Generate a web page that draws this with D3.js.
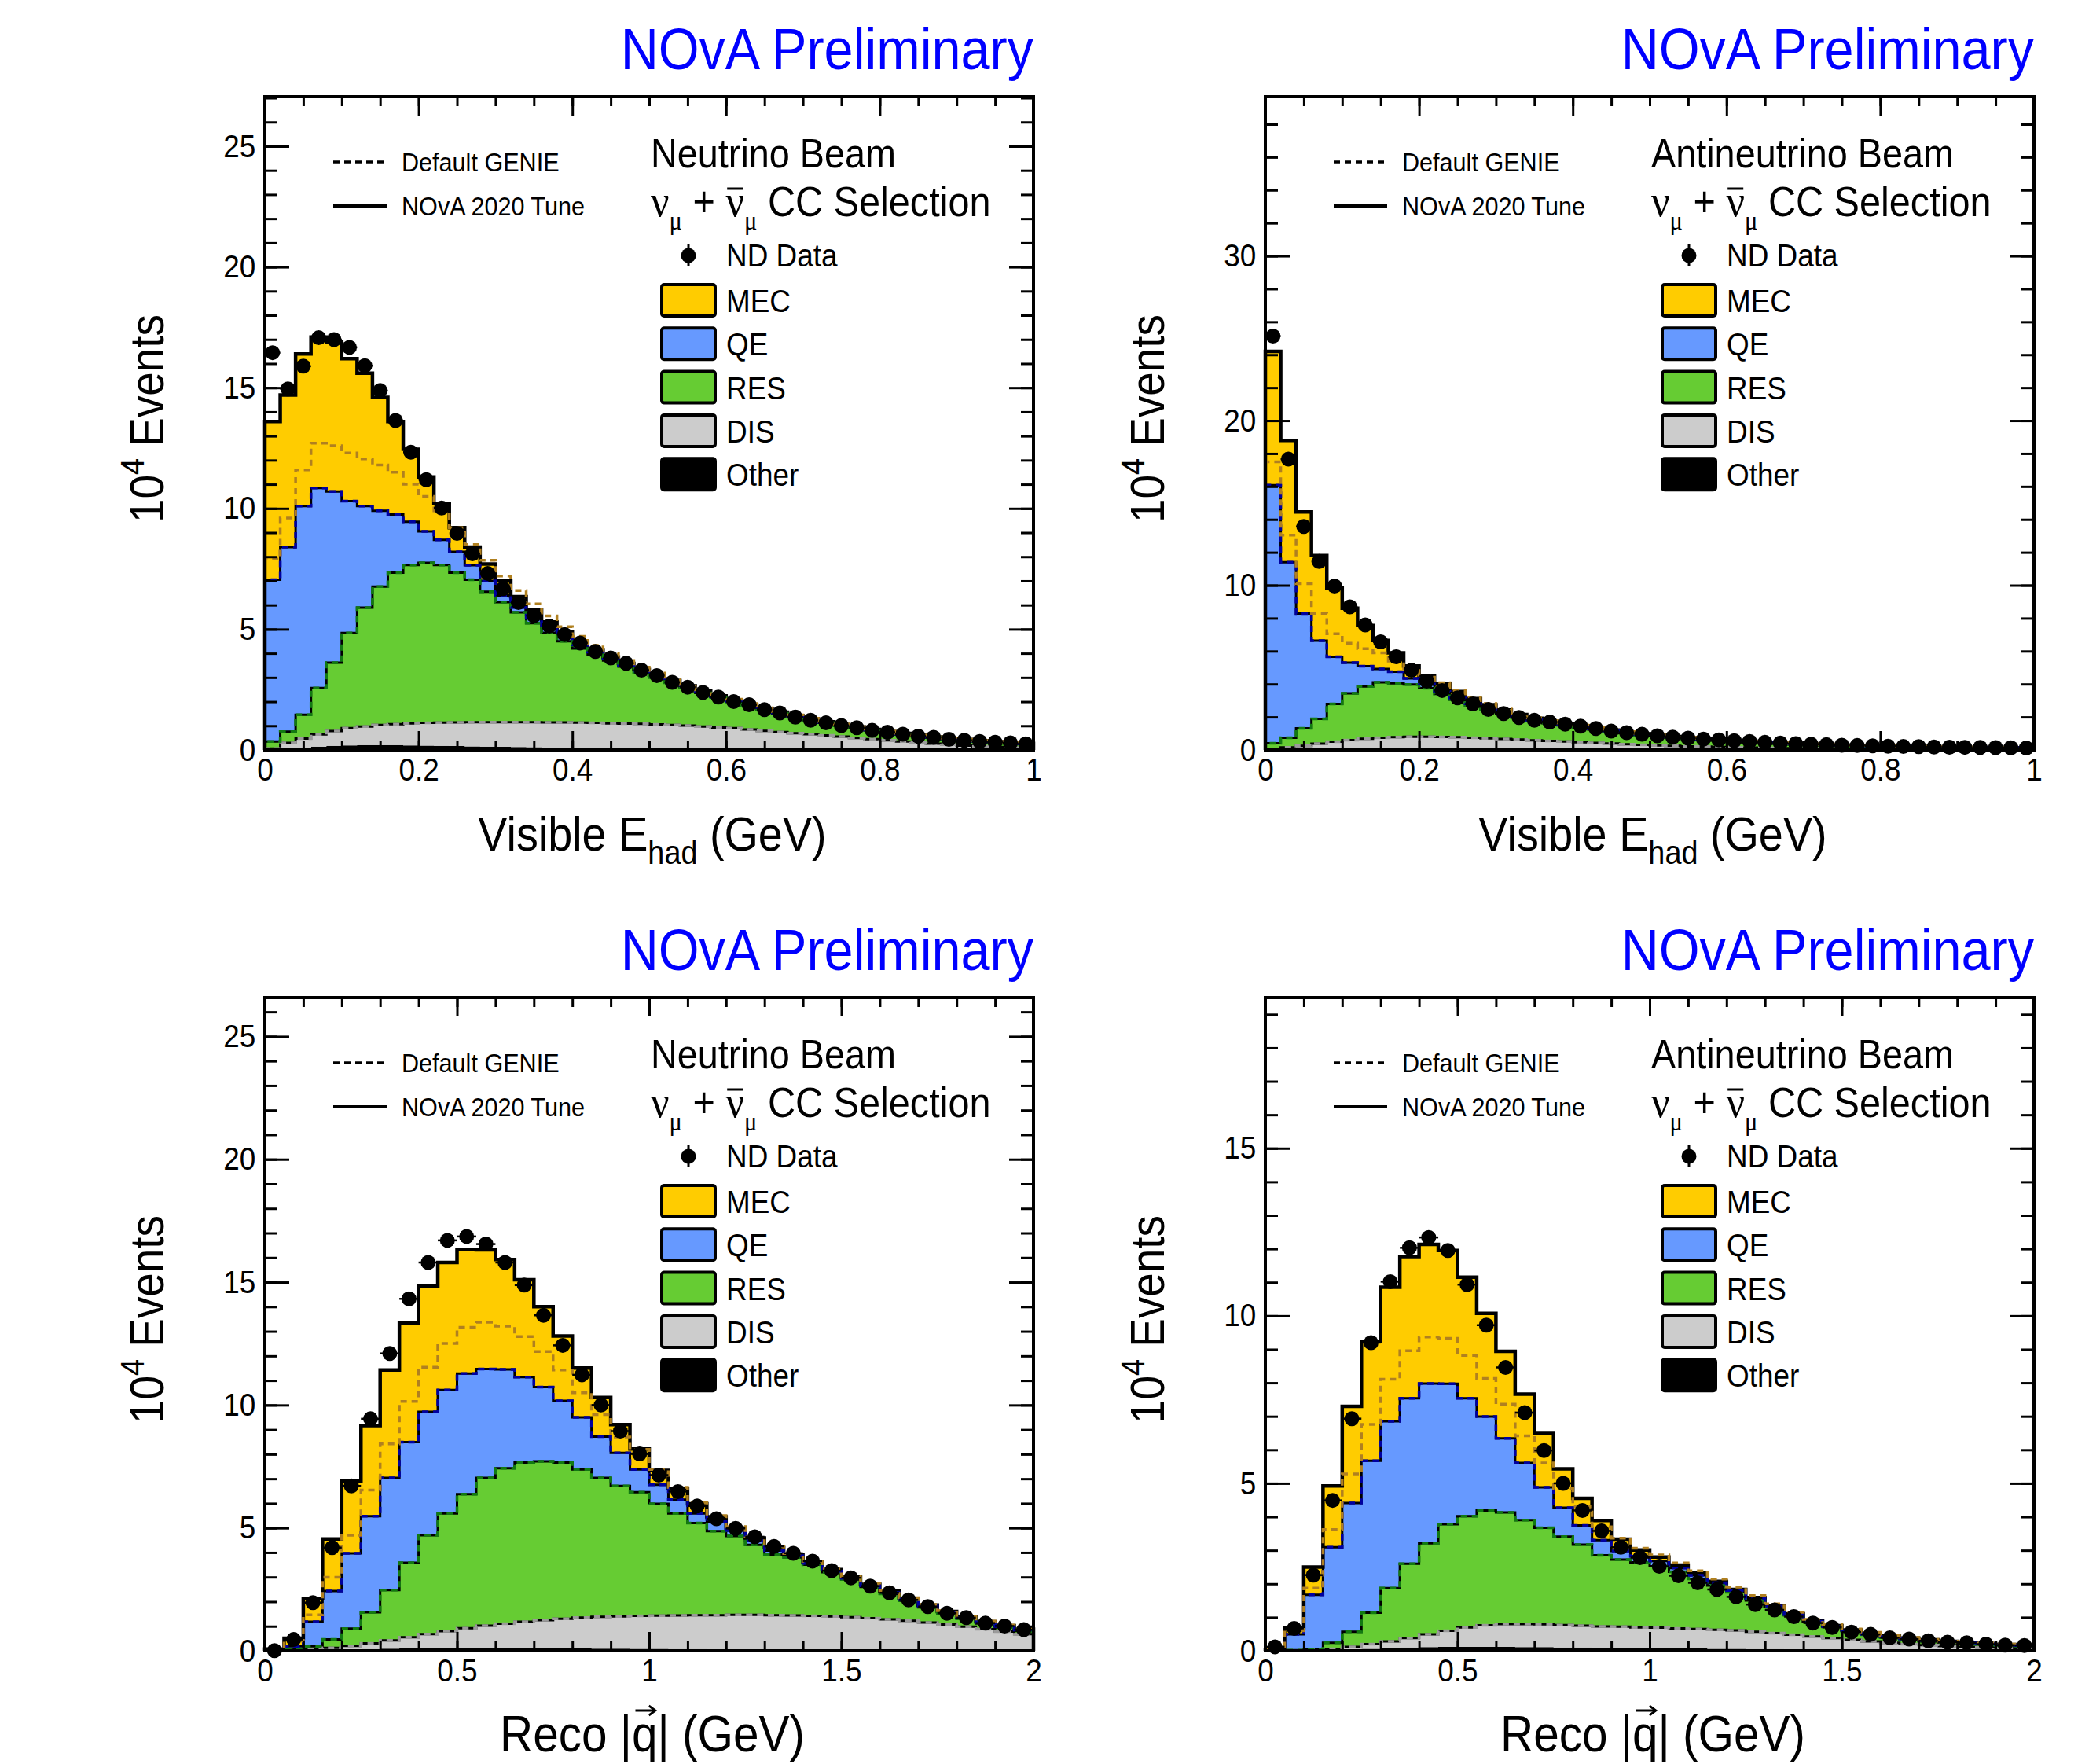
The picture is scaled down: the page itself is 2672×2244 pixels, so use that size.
<!DOCTYPE html>
<html>
<head>
<meta charset="utf-8">
<script src="https://cdn.jsdelivr.net/npm/d3@7"></script>
<style>body{margin:0;background:#fff}</style>
</head>
<body>
<svg id="fig"></svg>
<script>
// ---- binning and tick labels ----
const ehadBinWidth = 0.02;
const qBinWidth = 0.05;
const ehadXTicks = [0, 0.2, 0.4, 0.6, 0.8, 1];
const qXTicks = [0, 0.5, 1, 1.5, 2];
const nuEhadYTicks = [0, 5, 10, 15, 20, 25];
const antiEhadYTicks = [0, 10, 20, 30];
const nuQYTicks = [0, 5, 10, 15, 20, 25];
const antiQYTicks = [0, 5, 10, 15];
const legendNames = ["MEC", "QE", "RES", "DIS", "Other"];

// ---- neutrino beam, visible Ehad (stacked tops, 10^4 events) ----
const nuEhadData = [16.45, 14.95, 15.89, 17.07, 16.99, 16.67, 15.91, 14.88, 13.64, 12.33, 11.19, 10.02, 8.97, 8.12, 7.31, 6.68, 6.10, 5.56, 5.13, 4.78, 4.43, 4.08, 3.81, 3.59, 3.30, 3.08, 2.80, 2.60, 2.38, 2.19, 2.00, 1.87, 1.67, 1.53, 1.36, 1.23, 1.12, 1.01, 0.92, 0.81, 0.73, 0.65, 0.57, 0.52, 0.44, 0.40, 0.35, 0.32, 0.29, 0.25];
const nuEhadMEC = [13.6, 14.7, 16.4, 17.1, 16.9, 16.2, 15.6, 14.6, 13.6, 12.45, 11.3, 10.2, 9.2, 8.4, 7.7, 7.0, 6.35, 5.8, 5.3, 4.9, 4.5, 4.15, 3.85, 3.58, 3.33, 3.1, 2.87, 2.65, 2.44, 2.24, 2.05, 1.88, 1.72, 1.56, 1.42, 1.29, 1.16, 1.05, 0.95, 0.85, 0.76, 0.68, 0.6, 0.54, 0.48, 0.43, 0.38, 0.34, 0.3, 0.27];
const nuEhadQE = [7.05, 8.4, 10.1, 10.85, 10.7, 10.3, 10.1, 9.9, 9.75, 9.45, 9.05, 8.7, 8.2, 7.65, 7.0, 6.4, 5.9, 5.45, 5.05, 4.7, 4.35, 4.05, 3.77, 3.5, 3.26, 3.04, 2.82, 2.6, 2.4, 2.2, 2.02, 1.85, 1.69, 1.54, 1.4, 1.27, 1.14, 1.03, 0.93, 0.83, 0.74, 0.66, 0.59, 0.53, 0.47, 0.42, 0.37, 0.33, 0.29, 0.26];
const nuEhadRES = [0.35, 0.76, 1.46, 2.56, 3.61, 4.84, 5.89, 6.76, 7.34, 7.66, 7.75, 7.66, 7.34, 7.05, 6.55, 6.12, 5.7, 5.25, 4.85, 4.5, 4.2, 3.95, 3.7, 3.45, 3.21, 3.0, 2.78, 2.56, 2.36, 2.17, 1.99, 1.82, 1.66, 1.51, 1.37, 1.24, 1.12, 1.01, 0.91, 0.81, 0.72, 0.64, 0.57, 0.51, 0.45, 0.40, 0.35, 0.31, 0.27, 0.24];
const nuEhadDIS = [0.06, 0.29, 0.47, 0.64, 0.78, 0.9, 0.97, 1.03, 1.07, 1.1, 1.12, 1.13, 1.14, 1.15, 1.15, 1.15, 1.15, 1.15, 1.14, 1.14, 1.13, 1.12, 1.1, 1.09, 1.08, 1.06, 1.03, 1.01, 0.97, 0.93, 0.9, 0.85, 0.79, 0.74, 0.69, 0.65, 0.6, 0.55, 0.5, 0.45, 0.4, 0.35, 0.3, 0.26, 0.22, 0.18, 0.15, 0.12, 0.1, 0.08];
const nuEhadOther = [0.02, 0.05, 0.1, 0.14, 0.17, 0.19, 0.2, 0.2, 0.2, 0.19, 0.18, 0.17, 0.16, 0.15, 0.14, 0.13, 0.12, 0.11, 0.1, 0.1, 0.09, 0.09, 0.08, 0.08, 0.07, 0.07, 0.06, 0.06, 0.06, 0.05, 0.05, 0.05, 0.04, 0.04, 0.04, 0.04, 0.03, 0.03, 0.03, 0.03, 0.03, 0.02, 0.02, 0.02, 0.02, 0.02, 0.02, 0.02, 0.02, 0.02];
const nuEhadGenie = [7.9, 9.6, 11.6, 12.7, 12.6, 12.3, 12.05, 11.8, 11.5, 11.0, 10.5, 9.9, 9.2, 8.5, 7.85, 7.2, 6.6, 6.05, 5.55, 5.1, 4.7, 4.33, 4.0, 3.7, 3.43, 3.18, 2.94, 2.71, 2.49, 2.29, 2.1, 1.92, 1.75, 1.59, 1.45, 1.31, 1.18, 1.07, 0.96, 0.86, 0.77, 0.69, 0.61, 0.55, 0.49, 0.44, 0.39, 0.35, 0.31, 0.28];

// ---- antineutrino beam, visible Ehad ----
const antiEhadData = [25.13, 17.66, 13.57, 11.44, 9.95, 8.69, 7.59, 6.56, 5.66, 4.84, 4.18, 3.61, 3.16, 2.79, 2.46, 2.21, 1.97, 1.8, 1.69, 1.56, 1.44, 1.3, 1.15, 1.05, 0.95, 0.86, 0.78, 0.72, 0.66, 0.61, 0.56, 0.51, 0.46, 0.42, 0.38, 0.35, 0.32, 0.29, 0.27, 0.25, 0.23, 0.21, 0.2, 0.18, 0.17, 0.16, 0.15, 0.14, 0.13, 0.12];
const antiEhadMEC = [24.2, 18.8, 14.45, 11.8, 9.85, 8.6, 7.55, 6.65, 5.9, 5.1, 4.5, 4.0, 3.55, 3.12, 2.75, 2.42, 2.15, 1.92, 1.74, 1.6, 1.47, 1.33, 1.2, 1.08, 0.98, 0.89, 0.81, 0.74, 0.68, 0.62, 0.57, 0.52, 0.47, 0.43, 0.39, 0.36, 0.33, 0.3, 0.28, 0.26, 0.24, 0.22, 0.2, 0.19, 0.17, 0.16, 0.15, 0.14, 0.13, 0.12];
const antiEhadQE = [16.07, 11.4, 8.28, 6.64, 5.66, 5.3, 5.08, 4.92, 4.75, 4.35, 4.0, 3.55, 3.15, 2.8, 2.5, 2.25, 2.02, 1.82, 1.66, 1.53, 1.41, 1.28, 1.16, 1.05, 0.95, 0.87, 0.79, 0.72, 0.66, 0.61, 0.56, 0.51, 0.46, 0.42, 0.38, 0.35, 0.32, 0.29, 0.27, 0.25, 0.23, 0.21, 0.2, 0.18, 0.17, 0.16, 0.15, 0.14, 0.13, 0.12];
const antiEhadRES = [0.41, 0.74, 1.31, 1.89, 2.79, 3.44, 3.85, 4.1, 4.05, 3.98, 3.75, 3.4, 3.05, 2.7, 2.42, 2.18, 1.96, 1.77, 1.62, 1.49, 1.37, 1.24, 1.12, 1.01, 0.91, 0.83, 0.75, 0.68, 0.62, 0.57, 0.52, 0.47, 0.42, 0.38, 0.34, 0.31, 0.28, 0.25, 0.23, 0.21, 0.19, 0.17, 0.16, 0.14, 0.13, 0.12, 0.11, 0.1, 0.09, 0.08];
const antiEhadDIS = [0.05, 0.15, 0.25, 0.38, 0.5, 0.6, 0.68, 0.74, 0.78, 0.8, 0.8, 0.79, 0.77, 0.74, 0.71, 0.67, 0.63, 0.59, 0.55, 0.51, 0.47, 0.43, 0.39, 0.35, 0.31, 0.28, 0.25, 0.22, 0.2, 0.18, 0.16, 0.14, 0.12, 0.11, 0.1, 0.09, 0.08, 0.07, 0.06, 0.06, 0.05, 0.05, 0.04, 0.04, 0.04, 0.03, 0.03, 0.03, 0.03, 0.02];
const antiEhadOther = [0.02, 0.05, 0.08, 0.1, 0.12, 0.13, 0.13, 0.13, 0.12, 0.12, 0.11, 0.1, 0.09, 0.08, 0.07, 0.06, 0.05, 0.05, 0.04, 0.04, 0.03, 0.03, 0.03, 0.03, 0.03, 0.03, 0.03, 0.03, 0.03, 0.03, 0.02, 0.02, 0.02, 0.02, 0.02, 0.02, 0.02, 0.02, 0.02, 0.02, 0.02, 0.02, 0.02, 0.02, 0.02, 0.02, 0.02, 0.02, 0.02, 0.02];
const antiEhadGenie = [17.5, 13.05, 10.1, 8.3, 7.05, 6.48, 6.15, 5.9, 5.4, 4.95, 4.55, 4.08, 3.62, 3.2, 2.82, 2.48, 2.2, 1.96, 1.78, 1.63, 1.5, 1.36, 1.23, 1.11, 1.0, 0.91, 0.83, 0.76, 0.7, 0.64, 0.58, 0.53, 0.48, 0.44, 0.4, 0.37, 0.34, 0.31, 0.29, 0.27, 0.25, 0.23, 0.21, 0.19, 0.18, 0.17, 0.16, 0.15, 0.14, 0.13];

// ---- neutrino beam, reco |q| ----
const nuQData = [0.01, 0.46, 1.96, 4.2, 6.71, 9.44, 12.1, 14.32, 15.8, 16.7, 16.86, 16.55, 15.8, 14.88, 13.65, 12.43, 11.23, 10.0, 8.94, 8.01, 7.15, 6.48, 5.89, 5.37, 4.98, 4.64, 4.25, 3.97, 3.65, 3.26, 2.97, 2.63, 2.36, 2.07, 1.8, 1.53, 1.35, 1.13, 1.01, 0.86];
const nuQMEC = [0.07, 0.51, 2.13, 4.55, 6.9, 9.16, 11.43, 13.33, 14.85, 15.8, 16.34, 16.31, 15.92, 15.1, 14.0, 12.81, 11.51, 10.31, 9.2, 8.21, 7.34, 6.6, 5.98, 5.45, 5.0, 4.59, 4.2, 3.93, 3.62, 3.3, 3.0, 2.7, 2.42, 2.13, 1.86, 1.6, 1.38, 1.18, 1.02, 0.88];
const nuQQE = [0.01, 0.18, 1.18, 2.43, 3.97, 5.48, 7.04, 8.49, 9.72, 10.61, 11.28, 11.47, 11.45, 11.14, 10.73, 10.17, 9.5, 8.72, 8.05, 7.38, 6.76, 6.15, 5.59, 5.26, 4.89, 4.48, 4.08, 3.87, 3.56, 3.24, 2.95, 2.65, 2.37, 2.09, 1.82, 1.57, 1.35, 1.15, 0.99, 0.85];
const nuQRES = [0.01, 0.07, 0.18, 0.46, 0.9, 1.57, 2.47, 3.58, 4.7, 5.59, 6.37, 7.04, 7.43, 7.66, 7.71, 7.66, 7.38, 7.04, 6.71, 6.45, 5.98, 5.59, 5.2, 4.87, 4.67, 4.31, 3.92, 3.8, 3.5, 3.2, 2.9, 2.6, 2.32, 2.04, 1.77, 1.53, 1.31, 1.11, 0.95, 0.81];
const nuQDIS = [0.0, 0.02, 0.05, 0.12, 0.2, 0.3, 0.42, 0.55, 0.68, 0.8, 0.92, 1.02, 1.1, 1.18, 1.25, 1.3, 1.35, 1.38, 1.4, 1.42, 1.43, 1.44, 1.45, 1.45, 1.46, 1.46, 1.45, 1.44, 1.42, 1.4, 1.37, 1.33, 1.28, 1.22, 1.15, 1.07, 0.98, 0.88, 0.78, 0.68];
const nuQOther = [0, 0.01, 0.02, 0.03, 0.05, 0.07, 0.09, 0.1, 0.11, 0.12, 0.12, 0.12, 0.12, 0.11, 0.11, 0.1, 0.1, 0.09, 0.09, 0.08, 0.08, 0.07, 0.07, 0.06, 0.06, 0.05, 0.05, 0.05, 0.04, 0.04, 0.04, 0.03, 0.03, 0.03, 0.03, 0.02, 0.02, 0.02, 0.02, 0.02];
const nuQGenie = [0.01, 0.4, 1.46, 2.99, 4.7, 6.54, 8.42, 10.15, 11.54, 12.51, 13.16, 13.37, 13.21, 12.79, 12.18, 11.43, 10.5, 9.61, 8.7, 8.2, 7.38, 6.65, 6.02, 5.5, 5.05, 4.63, 4.24, 3.96, 3.65, 3.33, 3.03, 2.73, 2.45, 2.16, 1.89, 1.63, 1.41, 1.21, 1.05, 0.91];

// ---- antineutrino beam, reco |q| ----
const antiQData = [0.12, 0.67, 2.26, 4.49, 6.93, 9.2, 11.02, 12.03, 12.34, 11.95, 10.93, 9.72, 8.46, 7.11, 5.98, 5.0, 4.19, 3.58, 3.09, 2.78, 2.52, 2.24, 2.03, 1.83, 1.61, 1.38, 1.22, 1.02, 0.83, 0.7, 0.56, 0.49, 0.39, 0.35, 0.3, 0.26, 0.24, 0.2, 0.17, 0.16];
const antiQMEC = [0.04, 0.69, 2.5, 4.92, 7.3, 9.23, 10.85, 11.77, 12.13, 11.95, 11.15, 10.07, 8.94, 7.66, 6.49, 5.43, 4.55, 3.89, 3.33, 3.01, 2.8, 2.56, 2.32, 2.07, 1.83, 1.59, 1.34, 1.1, 0.9, 0.75, 0.62, 0.52, 0.44, 0.38, 0.33, 0.28, 0.25, 0.22, 0.19, 0.17];
const antiQQE = [0.02, 0.49, 1.67, 3.09, 4.41, 5.67, 6.85, 7.54, 7.98, 7.97, 7.54, 6.99, 6.34, 5.61, 4.88, 4.27, 3.74, 3.3, 2.98, 2.82, 2.68, 2.47, 2.25, 2.03, 1.8, 1.56, 1.33, 1.08, 0.88, 0.73, 0.6, 0.5, 0.42, 0.36, 0.31, 0.27, 0.24, 0.21, 0.18, 0.16];
const antiQRES = [0, 0.02, 0.04, 0.24, 0.57, 1.14, 1.87, 2.6, 3.21, 3.78, 4.02, 4.19, 4.13, 3.9, 3.67, 3.41, 3.17, 2.85, 2.72, 2.64, 2.52, 2.36, 2.15, 1.95, 1.75, 1.5, 1.3, 1.06, 0.86, 0.71, 0.58, 0.48, 0.4, 0.34, 0.29, 0.25, 0.22, 0.19, 0.16, 0.14];
const antiQDIS = [0, 0.01, 0.03, 0.06, 0.12, 0.2, 0.28, 0.38, 0.49, 0.6, 0.7, 0.76, 0.8, 0.8, 0.79, 0.77, 0.75, 0.73, 0.72, 0.7, 0.69, 0.67, 0.65, 0.63, 0.61, 0.57, 0.53, 0.48, 0.43, 0.38, 0.33, 0.28, 0.24, 0.2, 0.17, 0.14, 0.12, 0.1, 0.08, 0.07];
const antiQOther = [0, 0, 0.01, 0.02, 0.04, 0.06, 0.08, 0.1, 0.11, 0.12, 0.12, 0.12, 0.12, 0.11, 0.11, 0.1, 0.1, 0.09, 0.09, 0.08, 0.08, 0.07, 0.07, 0.06, 0.06, 0.05, 0.05, 0.04, 0.04, 0.03, 0.03, 0.03, 0.02, 0.02, 0.02, 0.02, 0.02, 0.02, 0.02, 0.02];
const antiQGenie = [0.04, 0.6, 1.87, 3.62, 5.28, 6.76, 8.11, 8.96, 9.37, 9.33, 8.82, 8.13, 7.36, 6.42, 5.61, 4.84, 4.3, 3.7, 3.36, 3.06, 2.86, 2.62, 2.39, 2.14, 1.9, 1.65, 1.4, 1.15, 0.94, 0.79, 0.65, 0.55, 0.46, 0.4, 0.34, 0.29, 0.26, 0.23, 0.2, 0.18];

// ---- drawing ----
const W = 2672, H = 2244, PW = 978, PH = 831;
const SX = 0.9; // ROOT's helvetica is a bit narrower
const FONT = "'Liberation Sans', Arial, Helvetica, sans-serif";
const SERIF = "'Liberation Serif', 'Times New Roman', serif";
const fillColors = ["#000000", "#cccccc", "#66cc33", "#6699ff", "#ffcc00"]; // Other, DIS, RES, QE, MEC
const legendFill = {MEC: "#ffcc00", QE: "#6699ff", RES: "#66cc33", DIS: "#cccccc", Other: "#000000"};

const svg = d3.select("#fig").attr("width", W).attr("height", H);
svg.append("rect").attr("width", W).attr("height", H).attr("fill", "#fff");

function txt(parent, x, y, size, str, anchor, family) {
  return parent.append("text")
    .attr("transform", `translate(${x},${y}) scale(${SX},1)`)
    .attr("font-size", size)
    .attr("font-family", family || FONT)
    .attr("text-anchor", anchor || "start")
    .text(str);
}

const panels = [
  {pos: [337, 123], beam: "Neutrino Beam", kind: "ehad", lo: 0, hi: 1, bw: ehadBinWidth, ymax: 27.05,
   yTicks: nuEhadYTicks, yMinor: 1, xTicks: ehadXTicks, xMinor: 0.05,
   data: nuEhadData, stack: [nuEhadOther, nuEhadDIS, nuEhadRES, nuEhadQE, nuEhadMEC], genie: nuEhadGenie},
  {pos: [1610, 123], beam: "Antineutrino Beam", kind: "ehad", lo: 0, hi: 1, bw: ehadBinWidth, ymax: 39.67,
   yTicks: antiEhadYTicks, yMinor: 2, xTicks: ehadXTicks, xMinor: 0.05,
   data: antiEhadData, stack: [antiEhadOther, antiEhadDIS, antiEhadRES, antiEhadQE, antiEhadMEC], genie: antiEhadGenie},
  {pos: [337, 1269], beam: "Neutrino Beam", kind: "q", lo: 0, hi: 2, bw: qBinWidth, ymax: 26.58,
   yTicks: nuQYTicks, yMinor: 1, xTicks: qXTicks, xMinor: 0.1,
   data: nuQData, stack: [nuQOther, nuQDIS, nuQRES, nuQQE, nuQMEC], genie: nuQGenie},
  {pos: [1610, 1269], beam: "Antineutrino Beam", kind: "q", lo: 0, hi: 2, bw: qBinWidth, ymax: 19.5,
   yTicks: antiQYTicks, yMinor: 1, xTicks: qXTicks, xMinor: 0.1,
   data: antiQData, stack: [antiQOther, antiQDIS, antiQRES, antiQQE, antiQMEC], genie: antiQGenie}
];

function drawPanel(p) {
  const g = svg.append("g").attr("transform", `translate(${p.pos[0]},${p.pos[1]})`);
  const x = d3.scaleLinear().domain([p.lo, p.hi]).range([0, PW]);
  const y = d3.scaleLinear().domain([0, p.ymax]).range([PH, 0]);
  const n = p.data.length;
  const edges = d3.range(n + 1).map(i => p.lo + i * p.bw);

  // stacked fills
  const area = d3.area().x(d => x(d.e)).y0(d => y(d.a)).y1(d => y(d.b)).curve(d3.curveStepAfter);
  p.stack.forEach((upper, k) => {
    const lower = k === 0 ? null : p.stack[k - 1];
    const rows = edges.map((e, i) => {
      const j = Math.min(i, n - 1);
      return {e: e, a: lower ? lower[j] : 0, b: upper[j]};
    });
    g.append("path").attr("d", area(rows)).attr("fill", fillColors[k]);
  });

  // step outlines
  const line = d3.line().x(d => x(d[0])).y(d => y(d[1])).curve(d3.curveStepAfter);
  const steps = vals => [[edges[0], 0]].concat(vals.map((v, i) => [edges[i], v]), [[edges[n], vals[n - 1]], [edges[n], 0]]);
  [p.stack[1], p.stack[2], p.stack[3]].forEach(v => {
    g.append("path").attr("d", line(steps(v))).attr("fill", "none").attr("stroke", "#000").attr("stroke-width", 3);
  });
  g.append("path").attr("d", line(steps(p.stack[4]))).attr("fill", "none").attr("stroke", "#000").attr("stroke-width", 4.5);

  // default GENIE (dashed)
  const dashed = [[p.stack[1], "#9a9a9a"], [p.stack[2], "#127a12"], [p.stack[3], "#0000a0"], [p.genie, "#b08020"]];
  dashed.forEach(([v, c]) => {
    g.append("path").attr("d", line(steps(v))).attr("fill", "none").attr("stroke", c)
      .attr("stroke-width", 3.5).attr("stroke-dasharray", "8,6");
  });

  // data
  const pts = g.append("g");
  pts.selectAll("line").data(p.data).join("line")
    .attr("x1", (d, i) => x(edges[i])).attr("x2", (d, i) => x(edges[i + 1]))
    .attr("y1", d => y(d)).attr("y2", d => y(d))
    .attr("stroke", "#000").attr("stroke-width", 2.5);
  pts.selectAll("circle").data(p.data).join("circle")
    .attr("cx", (d, i) => x(p.lo + (i + 0.5) * p.bw)).attr("cy", d => y(d)).attr("r", 9.5).attr("fill", "#000");

  // axes, ticks inward on all four sides
  const xMinorTicks = d3.range(Math.round((p.hi - p.lo) / p.xMinor) + 1).map(i => p.lo + i * p.xMinor);
  const yMinorTicks = d3.range(Math.floor(p.ymax / p.yMinor) + 1).map(i => i * p.yMinor);
  const styleAxis = a => {
    a.select(".domain").remove();
    a.selectAll(".tick line").attr("stroke", "#000").attr("stroke-width", 3);
    a.attr("font-size", 41).attr("font-family", FONT);
    a.selectAll(".tick text").attr("fill", "#000").attr("transform", `scale(${SX},1)`);
  };
  g.append("g").attr("transform", `translate(0,${PH})`)
    .call(d3.axisBottom(x).tickValues(p.xTicks).tickSizeInner(-24).tickSizeOuter(0).tickPadding(10).tickFormat(d3.format("~g"))).call(styleAxis);
  g.append("g").attr("transform", `translate(0,${PH})`)
    .call(d3.axisBottom(x).tickValues(xMinorTicks).tickSizeInner(-12).tickSizeOuter(0).tickFormat("")).call(styleAxis);
  g.append("g").call(d3.axisTop(x).tickValues(p.xTicks).tickSizeInner(-24).tickSizeOuter(0).tickFormat("")).call(styleAxis);
  g.append("g").call(d3.axisTop(x).tickValues(xMinorTicks).tickSizeInner(-12).tickSizeOuter(0).tickFormat("")).call(styleAxis);
  g.append("g").call(d3.axisLeft(y).tickValues(p.yTicks).tickSizeInner(-31).tickSizeOuter(0).tickPadding(13).tickFormat(d3.format("~g"))).call(styleAxis);
  g.append("g").call(d3.axisLeft(y).tickValues(yMinorTicks).tickSizeInner(-16).tickSizeOuter(0).tickFormat("")).call(styleAxis);
  g.append("g").attr("transform", `translate(${PW},0)`)
    .call(d3.axisRight(y).tickValues(p.yTicks).tickSizeInner(-31).tickSizeOuter(0).tickFormat("")).call(styleAxis);
  g.append("g").attr("transform", `translate(${PW},0)`)
    .call(d3.axisRight(y).tickValues(yMinorTicks).tickSizeInner(-16).tickSizeOuter(0).tickFormat("")).call(styleAxis);

  g.append("rect").attr("width", PW).attr("height", PH).attr("fill", "none").attr("stroke", "#000").attr("stroke-width", 4);

  // titles
  txt(g, PW, -35, 74, "NOvA Preliminary", "end").attr("fill", "#0000ff");

  const yt = g.append("g").attr("transform", `translate(-129,${PH / 2 - 6}) rotate(-90) scale(${SX},1)`)
    .append("text").attr("text-anchor", "middle").attr("font-size", 61).attr("font-family", FONT);
  yt.append("tspan").text("10");
  yt.append("tspan").attr("font-size", 42).attr("dy", -25).text("4");
  yt.append("tspan").attr("dy", 25).text(" Events");

  const xg = g.append("g").attr("transform", `translate(${PW / 2 + 4},${PH + 128}) scale(${SX},1)`);
  if (p.kind === "ehad") {
    const t = xg.append("text").attr("text-anchor", "middle").attr("font-size", 62).attr("font-family", FONT);
    t.append("tspan").text("Visible E");
    t.append("tspan").attr("font-size", 42).attr("dy", 17).text("had");
    t.append("tspan").attr("dy", -17).text(" (GeV)");
  } else {
    const t = xg.append("text").attr("text-anchor", "middle").attr("font-size", 65).attr("font-family", FONT)
      .style("white-space", "pre").text("Reco |q| (GeV)");
    const e = t.node().getExtentOfChar(6);
    const x1 = e.x + 5, x2 = e.x + e.width - 3, ya = -52;
    xg.append("line").attr("x1", x1).attr("x2", x2).attr("y1", ya).attr("y2", ya).attr("stroke", "#000").attr("stroke-width", 3);
    xg.append("path").attr("d", `M${x2 - 9},${ya - 6}L${x2},${ya}L${x2 - 9},${ya + 6}`).attr("fill", "none").attr("stroke", "#000").attr("stroke-width", 3);
  }

  // legend
  const L = g.append("g");
  L.append("line").attr("x1", 87).attr("x2", 155).attr("y1", 83).attr("y2", 83)
    .attr("stroke", "#000").attr("stroke-width", 3.5).attr("stroke-dasharray", "8,6");
  txt(L, 174, 95, 34, "Default GENIE");
  L.append("line").attr("x1", 87).attr("x2", 155).attr("y1", 139).attr("y2", 139)
    .attr("stroke", "#000").attr("stroke-width", 4);
  txt(L, 174, 151, 34, "NOvA 2020 Tune");

  txt(L, 491, 90, 52, p.beam);

  const sg = L.append("g").attr("transform", `translate(491,152) scale(${SX},1)`);
  const st = sg.append("text").attr("font-size", 54).attr("font-family", FONT).style("white-space", "pre");
  st.append("tspan").attr("font-family", SERIF).attr("font-size", 58).text("ν");
  st.append("tspan").attr("font-family", SERIF).attr("font-size", 34).attr("dy", 17).text("μ");
  st.append("tspan").attr("dy", -17).text(" + ");
  st.append("tspan").attr("font-family", SERIF).attr("font-size", 58).text("ν");
  st.append("tspan").attr("font-family", SERIF).attr("font-size", 34).attr("dy", 17).text("μ");
  st.append("tspan").attr("dy", -17).text(" CC Selection");
  const nb = st.node().getExtentOfChar(5);
  sg.append("line").attr("x1", nb.x + 2).attr("x2", nb.x + nb.width - 2).attr("y1", -35).attr("y2", -35)
    .attr("stroke", "#000").attr("stroke-width", 3);

  L.append("line").attr("x1", 539).attr("x2", 539).attr("y1", 188).attr("y2", 216).attr("stroke", "#000").attr("stroke-width", 3);
  L.append("circle").attr("cx", 539).attr("cy", 202).attr("r", 9.5).attr("fill", "#000");
  txt(L, 587, 216, 41, "ND Data");

  legendNames.forEach((name, i) => {
    const cy = 259 + i * 55.3;
    L.append("rect").attr("x", 505).attr("y", cy - 20).attr("width", 68).attr("height", 40).attr("rx", 3)
      .attr("fill", legendFill[name]).attr("stroke", "#000").attr("stroke-width", 4);
    txt(L, 587, cy + 15, 41, name);
  });
}

panels.forEach(drawPanel);
</script>
</body>
</html>
